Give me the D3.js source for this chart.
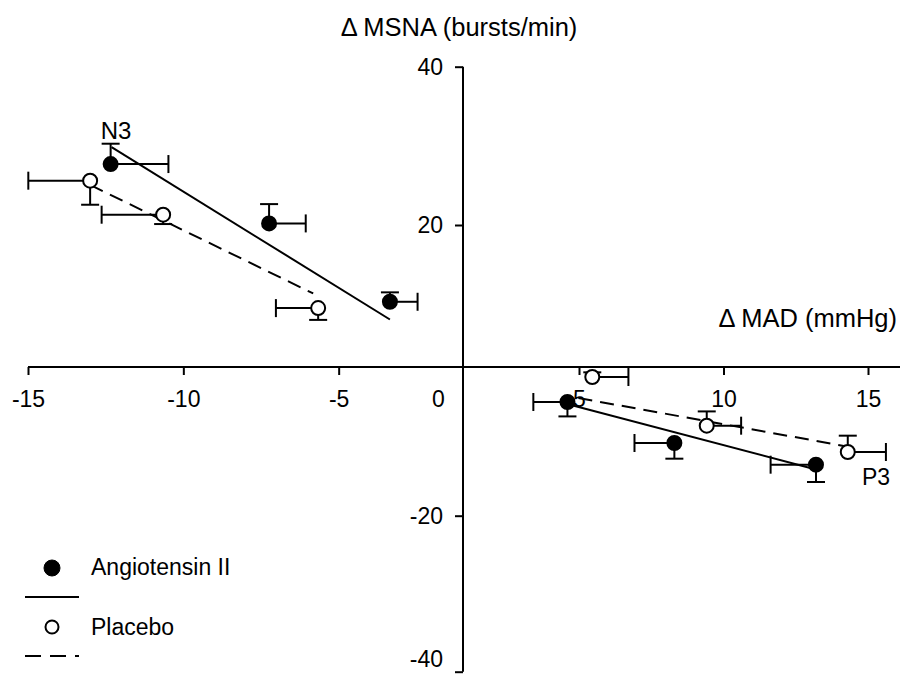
<!DOCTYPE html>
<html>
<head>
<meta charset="utf-8">
<script src="https://cdn.jsdelivr.net/npm/d3@7"></script>
<style>
  body { margin: 0; background: #fff; }
  svg text { font-family: "Liberation Sans", Arial, sans-serif; fill: #000; }
</style>
</head>
<body>
<div id="chart"></div>
<script>
// upper-left panel (MAD falls, MSNA rises) : N3
const angNegX = [-12.34, -7.24, -3.35];
const angNegY = [27.7, 20.2, 10.3];
const angNegErrX = [1.86, 1.18, 0.89];
const angNegErrY = [2.57, 2.44, 1.19];
const angNegLineX = [-12.31, -3.35];
const angNegLineY = [29.84, 8.06];

const plaNegX = [-13.0, -10.65, -5.66];
const plaNegY = [25.6, 21.3, 9.5];
const plaNegErrX = [1.99, 1.98, 1.36];
const plaNegErrY = [3.04, 1.18, 1.49];
const plaNegLineX = [-13.0, -5.82];
const plaNegLineY = [25.06, 11.35];

// lower-right panel (MAD rises, MSNA falls) : P3
const angPosX = [4.6, 8.3, 13.2];
const angPosY = [-5.42, -10.68, -13.46];
const angPosErrX = [1.18, 1.38, 1.57];
const angPosErrY = [1.85, 2.01, 2.22];
const angPosLineX = [4.69, 13.23];
const angPosLineY = [-5.77, -14.10];

const plaPosX = [5.46, 9.42, 14.3];
const plaPosY = [-2.22, -8.46, -11.83];
const plaPosErrX = [1.25, 1.19, 1.32];
const plaPosErrY = [0.6, 1.83, 2.09];
const plaPosLineX = [4.98, 14.26];
const plaPosLineY = [-4.91, -11.12];

const xNegTicks = [-15, -10, -5];
const xPosTicks = [5, 10, 15];
const yPosTicks = [20, 40];
const yNegTicks = [-20, -40];

const legendLabels = ["Angiotensin II", "Placebo"];

const dimensions = {
    width: 903,
    height: 675,
    axisX: 463,
    axisY: 367,
};

const wrapper = d3.select("#chart").append("svg")
    .attr("width", dimensions.width)
    .attr("height", dimensions.height);

// the figure is two panels glued together, each with its own scale
const xNeg = d3.scaleLinear().domain([-15, 0]).range([28, 494]);
const xPos = d3.scaleLinear().domain([0, 15]).range([434.5, 868]);
const yPos = d3.scaleLinear().domain([0, 40]).range([383.3, 66.7]);
const yNeg = d3.scaleLinear().domain([-40, 0]).range([671.7, 359.7]);

// plain hyphen for negatives, like the original
const tickFmt = d => String(d);

function styleAxis(g) {
    g.select(".domain").remove();
    g.selectAll(".tick line").attr("stroke", "#000").attr("stroke-width", 2);
    g.selectAll(".tick text").attr("font-size", "23px").attr("fill", "#000");
}

wrapper.append("line")
    .attr("x1", xNeg(-15)).attr("x2", 900)
    .attr("y1", dimensions.axisY).attr("y2", dimensions.axisY)
    .attr("stroke", "#000").attr("stroke-width", 2);

wrapper.append("line")
    .attr("x1", dimensions.axisX).attr("x2", dimensions.axisX)
    .attr("y1", yPos(40)).attr("y2", yNeg(-40))
    .attr("stroke", "#000").attr("stroke-width", 2);

wrapper.append("g")
    .attr("transform", `translate(0,${dimensions.axisY})`)
    .call(d3.axisBottom(xNeg).tickValues(xNegTicks).tickSize(8).tickPadding(16).tickFormat(tickFmt))
    .call(styleAxis);

wrapper.append("g")
    .attr("transform", `translate(0,${dimensions.axisY})`)
    .call(d3.axisBottom(xPos).tickValues(xPosTicks).tickSize(8).tickPadding(16).tickFormat(tickFmt))
    .call(styleAxis);

wrapper.append("text")
    .attr("x", xPos(0) + 4)
    .attr("y", dimensions.axisY + 40)
    .attr("text-anchor", "middle")
    .attr("font-size", "23px")
    .text("0");

wrapper.append("g")
    .attr("transform", `translate(${dimensions.axisX},0)`)
    .call(d3.axisLeft(yPos).tickValues(yPosTicks).tickSize(8).tickPadding(12).tickFormat(tickFmt))
    .call(styleAxis);

const yNegAxis = wrapper.append("g")
    .attr("transform", `translate(${dimensions.axisX},0)`)
    .call(d3.axisLeft(yNeg).tickValues(yNegTicks).tickSize(8).tickPadding(12).tickFormat(tickFmt))
    .call(styleAxis);
// keep the bottom label inside the window
yNegAxis.selectAll(".tick text").filter(d => d === -40).attr("dy", "-0.22em");

wrapper.append("text")
    .attr("x", 459)
    .attr("y", 36)
    .attr("text-anchor", "middle")
    .attr("font-size", "25.5px")
    .text("\u0394 MSNA (bursts/min)");

wrapper.append("text")
    .attr("x", 897)
    .attr("y", 327)
    .attr("text-anchor", "end")
    .attr("font-size", "25.5px")
    .text("\u0394 MAD (mmHg)");

// series
const capHalf = 9;

function drawSeries(xs, ys, errX, errY, dirX, dirY, lineX, lineY, xScale, yScale, filled, dash) {
    const g = wrapper.append("g");
    const pts = xs.map((x, i) => ({x: x, y: ys[i], ex: errX[i], ey: errY[i]}));

    pts.forEach(d => {
        // horizontal error bar
        const xEnd = xScale(d.x + dirX * d.ex);
        g.append("line")
            .attr("x1", xScale(d.x)).attr("x2", xEnd)
            .attr("y1", yScale(d.y)).attr("y2", yScale(d.y))
            .attr("stroke", "#000").attr("stroke-width", 2);
        g.append("line")
            .attr("x1", xEnd).attr("x2", xEnd)
            .attr("y1", yScale(d.y) - capHalf).attr("y2", yScale(d.y) + capHalf)
            .attr("stroke", "#000").attr("stroke-width", 2);

        // vertical error bar
        const yEnd = yScale(d.y + dirY * d.ey);
        g.append("line")
            .attr("x1", xScale(d.x)).attr("x2", xScale(d.x))
            .attr("y1", yScale(d.y)).attr("y2", yEnd)
            .attr("stroke", "#000").attr("stroke-width", 2);
        g.append("line")
            .attr("x1", xScale(d.x) - capHalf).attr("x2", xScale(d.x) + capHalf)
            .attr("y1", yEnd).attr("y2", yEnd)
            .attr("stroke", "#000").attr("stroke-width", 2);
    });

    g.append("line")
        .attr("x1", xScale(lineX[0])).attr("x2", xScale(lineX[1]))
        .attr("y1", yScale(lineY[0])).attr("y2", yScale(lineY[1]))
        .attr("stroke", "#000").attr("stroke-width", 2)
        .attr("stroke-dasharray", dash);

    g.selectAll("circle")
        .data(pts)
        .enter()
        .append("circle")
        .attr("cx", d => xScale(d.x))
        .attr("cy", d => yScale(d.y))
        .attr("r", 7)
        .attr("fill", filled ? "#000" : "#fff")
        .attr("stroke", "#000")
        .attr("stroke-width", 2);
}

drawSeries(plaNegX, plaNegY, plaNegErrX, plaNegErrY, -1, -1, plaNegLineX, plaNegLineY, xNeg, yPos, false, "14,8");
drawSeries(angNegX, angNegY, angNegErrX, angNegErrY, 1, 1, angNegLineX, angNegLineY, xNeg, yPos, true, null);
drawSeries(plaPosX, plaPosY, plaPosErrX, plaPosErrY, 1, 1, plaPosLineX, plaPosLineY, xPos, yNeg, false, "14,8");
drawSeries(angPosX, angPosY, angPosErrX, angPosErrY, -1, -1, angPosLineX, angPosLineY, xPos, yNeg, true, null);

wrapper.append("text")
    .attr("x", 116).attr("y", 139)
    .attr("text-anchor", "middle")
    .attr("font-size", "24px")
    .text("N3");

wrapper.append("text")
    .attr("x", 876).attr("y", 485)
    .attr("text-anchor", "middle")
    .attr("font-size", "23px")
    .text("P3");

// legend
const legend = wrapper.append("g");
legend.append("circle")
    .attr("cx", 52).attr("cy", 568).attr("r", 8)
    .attr("fill", "#000").attr("stroke", "#000").attr("stroke-width", 1);
legend.append("text")
    .attr("x", 91).attr("y", 575)
    .attr("font-size", "23px")
    .text(legendLabels[0]);
legend.append("line")
    .attr("x1", 25).attr("x2", 79).attr("y1", 597).attr("y2", 597)
    .attr("stroke", "#000").attr("stroke-width", 2);
legend.append("circle")
    .attr("cx", 52).attr("cy", 627).attr("r", 6.5)
    .attr("fill", "#fff").attr("stroke", "#000").attr("stroke-width", 2);
legend.append("text")
    .attr("x", 91).attr("y", 635)
    .attr("font-size", "23px")
    .text(legendLabels[1]);
legend.append("line")
    .attr("x1", 25).attr("x2", 79).attr("y1", 656).attr("y2", 656)
    .attr("stroke", "#000").attr("stroke-width", 2)
    .attr("stroke-dasharray", "16,9");
</script>
</body>
</html>
